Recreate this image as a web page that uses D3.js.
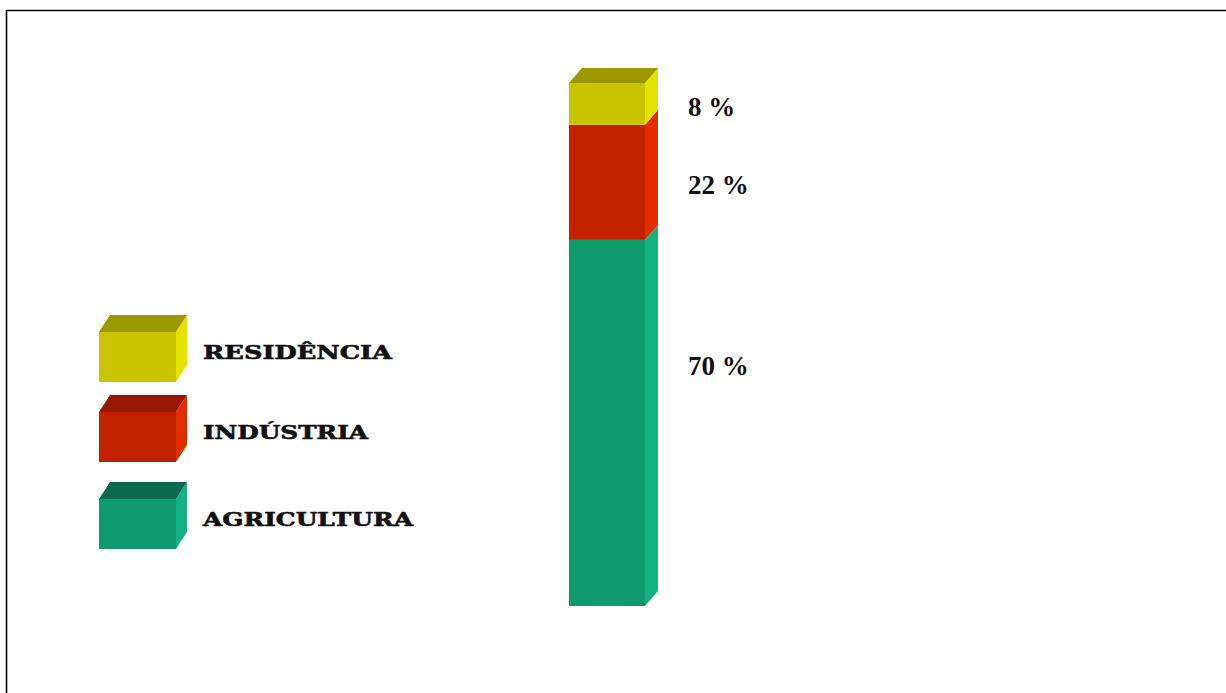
<!DOCTYPE html>
<html>
<head>
<meta charset="utf-8">
<script src="https://cdn.jsdelivr.net/npm/d3@7"></script>
<style>
  html, body { margin: 0; padding: 0; background: #fff; }
  svg { display: block; }
</style>
</head>
<body>
<script>
// Water use by sector (percent of total)
const sectors = ["AGRICULTURA", "INDÚSTRIA", "RESIDÊNCIA"];
const shares = [70, 22, 8];
const valueLabels = ["70 %", "22 %", "8 %"];
// Legend order, top to bottom
const legendOrder = ["RESIDÊNCIA", "INDÚSTRIA", "AGRICULTURA"];

// Face colours for each sector: front, side, top
const palette = {
  "AGRICULTURA": { front: "#0f9a6d", side: "#14b183", top: "#0b6a4d" },
  "INDÚSTRIA":   { front: "#c22200", side: "#e32c00", top: "#961800" },
  "RESIDÊNCIA":  { front: "#c9c400", side: "#e4e300", top: "#9c9900" }
};

// Vertical position of each value label, in value units (layout only)
const labelAnchor = { "AGRICULTURA": 46, "INDÚSTRIA": 80.5, "RESIDÊNCIA": 95.5 };

const W = 1226, H = 693;
const depthX = 13, depthY = 15;

const svg = d3.select("body").append("svg")
  .attr("width", W).attr("height", H);

// Frame lines along the top and left edges
svg.append("path")
  .attr("d", `M6.5,${H} L6.5,10.5 L${W},10.5`)
  .attr("fill", "none").attr("stroke", "#000").attr("stroke-width", 1.6);

const row = {};
sectors.forEach((s, i) => row[s] = shares[i]);
const stacked = d3.stack().keys(sectors)([row]);

const x = d3.scaleBand().domain(["total"]).range([569, 645]).padding(0);
const y = d3.scaleLinear().domain([0, 100]).range([606, 83]);

const bar = svg.append("g");
const x0 = x("total"), x1 = x0 + x.bandwidth();

stacked.forEach((layer, i) => {
  const key = layer.key;
  const c = palette[key];
  const yb = y(layer[0][0]), yt = y(layer[0][1]);
  // side face
  bar.append("path")
    .attr("d", `M${x1},${yt} L${x1 + depthX},${yt - depthY} L${x1 + depthX},${yb - depthY} L${x1},${yb} Z`)
    .attr("fill", c.side);
  // front face
  bar.append("rect")
    .attr("x", x0).attr("y", yt)
    .attr("width", x.bandwidth()).attr("height", yb - yt)
    .attr("fill", c.front);
  // top face on the uppermost segment
  if (i === stacked.length - 1) {
    bar.append("path")
      .attr("d", `M${x0},${yt} L${x0 + depthX},${yt - depthY} L${x1 + depthX},${yt - depthY} L${x1},${yt} Z`)
      .attr("fill", c.top);
  }
  // value label
  svg.append("text")
    .attr("x", 688)
    .attr("y", y(labelAnchor[key]))
    .attr("dy", "0.35em")
    .attr("font-family", "'Liberation Serif', 'Times New Roman', serif")
    .attr("font-weight", "bold")
    .attr("font-size", 27)
    .attr("fill", "#111")
    .text(valueLabels[i]);
});

// Legend with 3D boxes (front-face top edge of each box)
const legendTops = [332, 412, 499];
const legendWidths = { "RESIDÊNCIA": 189, "INDÚSTRIA": 165, "AGRICULTURA": 210 };
const boxW = 77, boxH = 50, bdx = 11, bdy = 17;
const lg = svg.append("g");
legendOrder.forEach((key, i) => {
  const c = palette[key];
  const bx = 99, by = legendTops[i];
  lg.append("path")
    .attr("d", `M${bx + boxW},${by} L${bx + boxW + bdx},${by - bdy} L${bx + boxW + bdx},${by + boxH - bdy} L${bx + boxW},${by + boxH} Z`)
    .attr("fill", c.side);
  lg.append("rect")
    .attr("x", bx).attr("y", by).attr("width", boxW).attr("height", boxH)
    .attr("fill", c.front);
  lg.append("path")
    .attr("d", `M${bx},${by} L${bx + bdx},${by - bdy} L${bx + boxW + bdx},${by - bdy} L${bx + boxW},${by} Z`)
    .attr("fill", c.top);
  lg.append("text")
    .attr("x", 203)
    .attr("y", by + 27)
    .attr("font-family", "'DejaVu Serif', serif")
    .attr("font-weight", "bold")
    .attr("font-size", 19)
    .attr("textLength", legendWidths[key])
    .attr("lengthAdjust", "spacingAndGlyphs")
    .attr("fill", "#111")
    .attr("stroke", "#111")
    .attr("stroke-width", 0.6)
    .text(key);
});
</script>
</body>
</html>
